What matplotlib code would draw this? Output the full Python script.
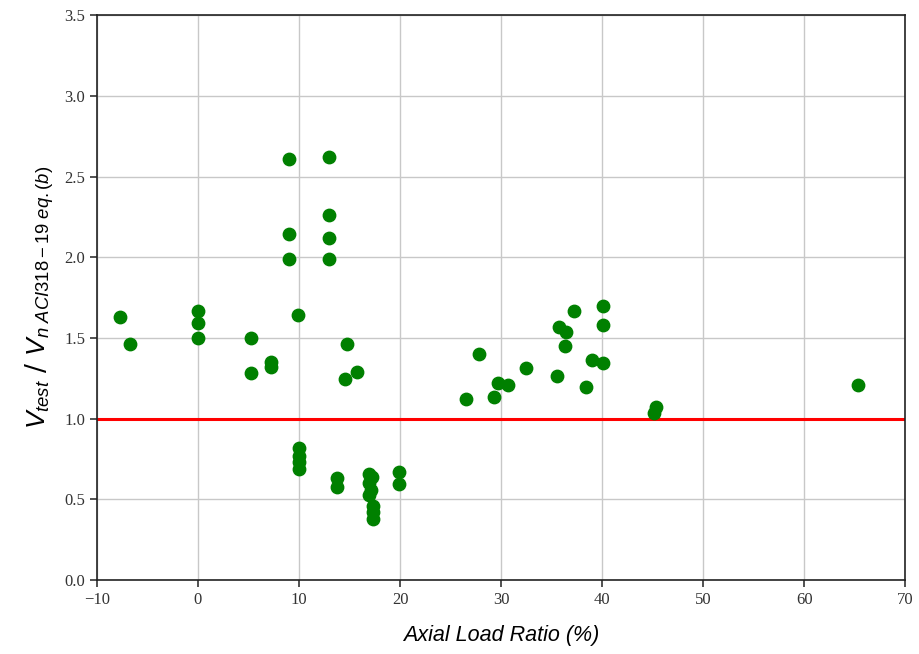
import matplotlib
matplotlib.use("Agg")
import matplotlib.pyplot as plt

axial_load_ratio = [-7.7, -6.7, 0.0, 0.0, 0.0, 5.2, 5.2, 7.2, 7.2,
                    9.0, 9.0, 9.0, 9.9, 13.0, 13.0, 13.0, 13.0,
                    14.7, 14.6, 15.7,
                    10.0, 10.0, 10.0, 10.0, 13.8, 13.8,
                    16.9, 17.2, 16.9, 17.1, 16.9, 17.3, 17.3, 17.3,
                    19.9, 19.9,
                    26.5, 27.8, 29.3, 29.7, 30.7, 32.5, 35.5, 35.7, 36.4, 36.3,
                    37.2, 38.4, 39.0, 40.1, 40.1, 40.1, 45.35, 45.1, 65.3]
shear_ratio = [1.63, 1.46, 1.67, 1.595, 1.50, 1.50, 1.285, 1.35, 1.32,
               2.61, 2.145, 1.99, 1.645, 2.625, 2.26, 2.12, 1.99,
               1.463, 1.245, 1.288,
               0.82, 0.77, 0.73, 0.69, 0.63, 0.58,
               0.66, 0.64, 0.60, 0.56, 0.53, 0.46, 0.42, 0.38,
               0.67, 0.595,
               1.12, 1.40, 1.133, 1.223, 1.207, 1.312, 1.267, 1.571, 1.54, 1.453,
               1.67, 1.195, 1.364, 1.347, 1.581, 1.699, 1.07, 1.033, 1.209]

x_ticks = [-10, 0, 10, 20, 30, 40, 50, 60, 70]
y_ticks = [0.0, 0.5, 1.0, 1.5, 2.0, 2.5, 3.0, 3.5]

plt.rcParams['mathtext.fontset'] = 'custom'
plt.rcParams['mathtext.rm'] = 'Liberation Sans'
plt.rcParams['mathtext.it'] = 'Liberation Sans:italic'
plt.rcParams['mathtext.bf'] = 'Liberation Sans:bold'

fig = plt.figure(figsize=(9.19, 6.54), dpi=100)
ax = fig.add_axes([0.1055, 0.113, 0.8795, 0.8636])

ax.grid(True, color='#c8c8c8', linewidth=1.0, zorder=0)
ax.axhline(1.0, color='red', linewidth=2.2, zorder=2)
ax.scatter(axial_load_ratio, shear_ratio, s=80, color='green', zorder=3)

ax.set_xlim(-10, 70)
ax.set_ylim(0, 3.5)
ax.set_xticks(x_ticks)
ax.set_yticks(y_ticks)
ax.set_xticklabels([str(t).replace('-', '\u2212') for t in x_ticks], family='Liberation Serif', fontsize=12)
ax.set_yticklabels([f"{t:.1f}" for t in y_ticks], family='Liberation Serif', fontsize=12)
ax.tick_params(direction='out', length=5, width=1.2, colors='#333333')
for sp in ax.spines.values():
    sp.set_linewidth(1.2)
    sp.set_color('#222222')

ax.set_xlabel('Axial Load Ratio (%)', family='Liberation Sans', style='italic', fontsize=15.5, labelpad=12)
ax.set_ylabel(r'$V_{test}$ / $V_{n\ ACI318-19\ eq.(b)}$', fontsize=19, labelpad=6)

fig.savefig('out.png', dpi=100)
